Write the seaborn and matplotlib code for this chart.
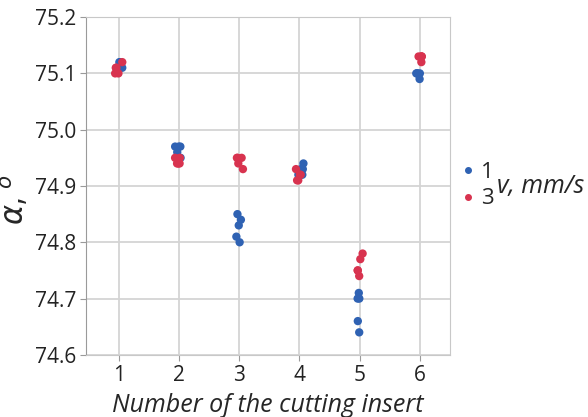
import numpy as np
import pandas as pd
import matplotlib
matplotlib.use('Agg')
import matplotlib.pyplot as plt
import seaborn as sns

inserts = ['1', '2', '3', '4', '5', '6']
speeds = ['1', '3']
# alpha values for each insert, v = 1 mm/s
alpha_v1 = [
    [75.12, 75.12, 75.11, 75.11, 75.11],
    [74.97, 74.97, 74.97, 74.96, 74.95],
    [74.85, 74.84, 74.83, 74.81, 74.80],
    [74.94, 74.93, 74.93, 74.92, 74.92],
    [74.71, 74.70, 74.70, 74.66, 74.64],
    [75.10, 75.10, 75.10, 75.10, 75.09],
]
# alpha values for each insert, v = 3 mm/s
alpha_v3 = [
    [75.12, 75.11, 75.11, 75.10, 75.10],
    [74.95, 74.95, 74.94, 74.94, 74.94],
    [74.95, 74.95, 74.95, 74.94, 74.93],
    [74.93, 74.92, 74.92, 74.91, 74.91],
    [74.78, 74.77, 74.75, 74.75, 74.74],
    [75.13, 75.13, 75.13, 75.12, 75.13],
]

rows = []
for ins, a1, a3 in zip(inserts, alpha_v1, alpha_v3):
    for v in a1:
        rows.append((ins, '1', v))
    for v in a3:
        rows.append((ins, '3', v))
df = pd.DataFrame(rows, columns=['insert', 'speed', 'alpha'])

sns.set_style('whitegrid')
plt.rcParams['font.family'] = ['Open Sans', 'DejaVu Sans']

fig = plt.figure(figsize=(5.88, 4.17), dpi=100)
ax = fig.add_axes([0.146, 0.149, 0.619, 0.81])

np.random.seed(3)
sns.stripplot(data=df, x='insert', y='alpha', hue='speed', order=inserts,
              hue_order=speeds, palette=['#2f62b3', '#d8334f'], jitter=0.07,
              size=6, linewidth=0, ax=ax, legend=False)

ax.set_ylim(74.6, 75.2)
ax.set_xlim(-0.55, 5.5)
ax.set_yticks(np.arange(74.6, 75.21, 0.1))
ax.set_yticklabels([f'{t:.1f}' for t in np.arange(74.6, 75.21, 0.1)])
ax.grid(True, color='#d4d4d4', linewidth=1.3)
for s in ax.spines.values():
    s.set_color('#c8c8c8')
ax.spines['left'].set_color('#9a9a9a')
ax.tick_params(axis='both', labelsize=15, colors='#222222', length=4,
               color='#9a9a9a', left=True, bottom=True, pad=3)
ax.set_xlabel('Number of the cutting insert', fontsize=18, style='italic', labelpad=5)
ax.set_ylabel(r'$\alpha$, $^{o}$', fontsize=22)
ax.yaxis.set_label_coords(-0.15, 0.46)

handles = [plt.Line2D([], [], marker='o', ls='', color=c, markersize=4)
           for c in ['#2f62b3', '#d8334f']]
fig.legend(handles, speeds, loc='center left', bbox_to_anchor=(0.78, 0.555),
           frameon=False, fontsize=16, handletextpad=0.2, labelspacing=0.25,
           handlelength=0.8, borderpad=0, borderaxespad=0)
fig.text(0.845, 0.553, 'v, mm/s', fontsize=18, style='italic', va='center')

plt.savefig('out.png', dpi=100)
